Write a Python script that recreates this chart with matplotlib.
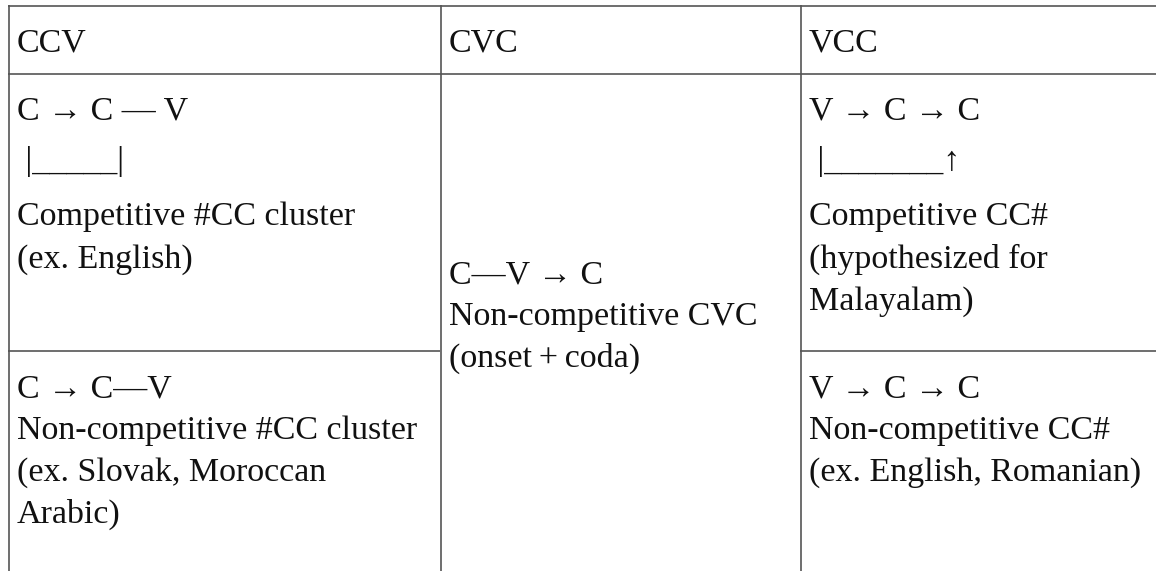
import matplotlib
matplotlib.use('Agg')
import matplotlib.pyplot as plt

# table content
headers = ['CCV', 'CVC', 'VCC']
ccv_top = ['C \u2192 C \u2014 V', ' |_____|', 'Competitive #CC cluster', '(ex. English)']
ccv_bottom = ['C \u2192 C\u2014V', 'Non-competitive #CC cluster', '(ex. Slovak, Moroccan', 'Arabic)']
cvc_cell = ['C\u2014V \u2192 C', 'Non-competitive CVC', '(onset\u2009+\u2009coda)']
vcc_top = ['V \u2192 C \u2192 C', ' |_______\u2191', 'Competitive CC#', '(hypothesized for', 'Malayalam)']
vcc_bottom = ['V \u2192 C \u2192 C', 'Non-competitive CC#', '(ex. English, Romanian)']

W, H = 1156, 571
col_x = [8, 440, 800, 1200]   # column borders (last one is off the picture)
row_y = [5, 73, 350, 600]     # row borders (last one is off the picture)
pad_x = 9
line_h = 42
font = dict(family=['Liberation Serif', 'DejaVu Serif'], fontsize=24.5, color='#111111')
line_kw = dict(color='#555555', lw=1.2, solid_capstyle='butt')

fig = plt.figure(figsize=(W / 100, H / 100), dpi=100)
ax = fig.add_axes([0, 0, 1, 1])
ax.set_xlim(0, W)
ax.set_ylim(H, 0)
ax.axis('off')

# borders
ax.plot([col_x[0], W], [row_y[0] + 0.5] * 2, **line_kw)
ax.plot([col_x[0], W], [row_y[1] + 0.5] * 2, **line_kw)
ax.plot([col_x[0], col_x[1]], [row_y[2] + 0.5] * 2, **line_kw)
ax.plot([col_x[2], W], [row_y[2] + 0.5] * 2, **line_kw)
for x in col_x[:3]:
    ax.plot([x + 0.5] * 2, [row_y[0], H], **line_kw)


def draw_lines(x, y0, lines, gaps=None):
    y = y0
    for i, s in enumerate(lines):
        ax.text(x, y, s, ha='left', va='baseline', **font)
        y += gaps[i] if gaps else line_h


for i, h in enumerate(headers):
    ax.text(col_x[i] + pad_x, 52, h, ha='left', va='baseline', **font)

draw_lines(col_x[0] + pad_x, 120, ccv_top, gaps=[50, 55, 43, 43])
draw_lines(col_x[0] + pad_x, 397, ccv_bottom)
draw_lines(col_x[1] + pad_x, 283, cvc_cell)
draw_lines(col_x[2] + pad_x, 120, vcc_top, gaps=[50, 55, 43, 42, 42])
draw_lines(col_x[2] + pad_x, 397, vcc_bottom)

fig.savefig('out.png', dpi=100, facecolor='white')
